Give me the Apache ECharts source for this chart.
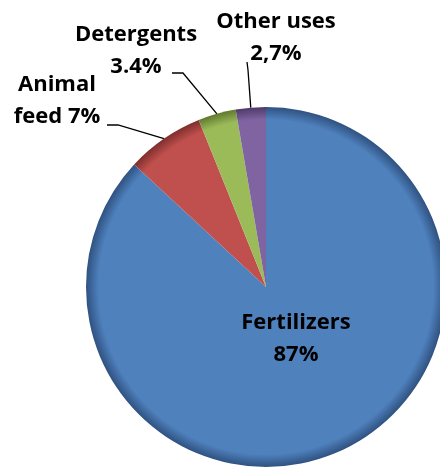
<!DOCTYPE html>
<head>
    <meta charset="utf-8">
    <title>ECharts</title>
    <style>
        html, body { margin: 0; padding: 0; background: #fff; }
    </style>
</head>
<body>
    <div id="main" style="width:440px;height:470px"></div>
    <script src="https://cdn.jsdelivr.net/npm/echarts@6/dist/echarts.min.js"></script>
    <script type="text/javascript">

    // data
    var categories = ['Fertilizers', 'Animal feed', 'Detergents', 'Other uses'];
    var values = [87, 7, 3.4, 2.7];
    var labelTexts = ['Fertilizers\n87%', 'Animal\nfeed 7%', 'Detergents\n3.4%', 'Other uses\n2,7%'];

    var colors = ['#4F81BD', '#C0504D', '#9BBB59', '#8064A2'];
    var rims = ['#2f5180', '#7e2f2d', '#62792f', '#4e3a68'];

    var cx = 266, cy = 287, R = 180;

    // where each label sits, and its leader line
    var labelPos = [
        { x: 296, y: 339 },
        { x: 57, y: 101, line: [[107, 125], [118, 125]] },
        { x: 136, y: 51, line: [[172, 73], [183, 73]] },
        { x: 276, y: 38, line: [[247, 62], [248, 70]] }
    ];

    function shade(i) {
        return {
            type: 'radial', x: cx, y: cy, r: R, global: true,
            colorStops: [
                { offset: 0, color: colors[i] },
                { offset: 0.93, color: colors[i] },
                { offset: 1, color: rims[i] }
            ]
        };
    }

    var seriesData = categories.map(function (name, i) {
        return {
            name: name,
            value: values[i],
            itemStyle: { color: shade(i) },
            label: { position: i === 0 ? 'inside' : 'outside' },
            labelLine: { show: i !== 0 }
        };
    });

    var myChart = echarts.init(document.getElementById('main'));

    var option = {
        animation: false,
        series: [{
            type: 'pie',
            center: [cx, cy],
            radius: R,
            startAngle: 90,
            clockwise: true,
            data: seriesData,
            itemStyle: { borderWidth: 0 },
            label: {
                formatter: function (p) { return labelTexts[p.dataIndex]; },
                fontFamily: 'Open Sans',
                fontWeight: 'bold',
                fontSize: 22,
                lineHeight: 32,
                color: '#000',
                align: 'center',
                overflow: 'none',
                alignTo: 'none'
            },
            labelLine: {
                lineStyle: { color: '#000', width: 1.3 }
            },
            labelLayout: function (params) {
                var p = labelPos[params.dataIndex];
                var out = { x: p.x, y: p.y, align: 'center', verticalAlign: 'middle', hideOverlap: false };
                if (p.line) {
                    var start = params.labelLinePoints ? params.labelLinePoints[0] : null;
                    out.labelLinePoints = [start, p.line[1], p.line[0]];
                }
                return out;
            }
        }]
    };

    myChart.setOption(option);

    </script>
</body>
